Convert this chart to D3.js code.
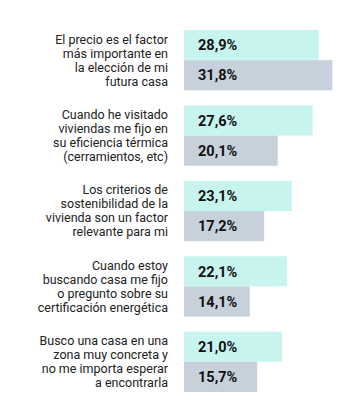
<!DOCTYPE html>
<html><head><meta charset="utf-8">
<script src="https://cdn.jsdelivr.net/npm/d3@7"></script>
<style>html,body{margin:0;padding:0;background:#fff;}svg{display:block;}</style>
</head><body>
<script>
const categories = [
  ["El precio es el factor","más importante en","la elección de mi","futura casa"],
  ["Cuando he visitado","viviendas me fijo en","su eficiencia térmica","(cerramientos, etc)"],
  ["Los criterios de","sostenibilidad de la","vivienda son un factor","relevante para mi"],
  ["Cuando estoy","buscando casa me fijo","o pregunto sobre su","certificación energética"],
  ["Busco una casa en una","zona muy concreta y","no me importa esperar","a encontrarla"]
];
const seriesA = [28.9, 27.6, 23.1, 22.1, 21.0];
const seriesB = [31.8, 20.1, 17.2, 14.1, 15.7];
const series = ["A","B"];
const colors = ["#c8f4f0","#c6d1dc"];

const W = 356, H = 418;
const svg = d3.select("body").append("svg").attr("width", W).attr("height", H);

const x = d3.scaleLinear().domain([0, 31.8]).range([184, 332.3]);
const y = d3.scaleBand().domain(d3.range(categories.length)).range([30, 392]).paddingInner(0.2).paddingOuter(0);
const ySub = d3.scaleBand().domain(series).range([0, y.bandwidth()]);

const fmt = v => d3.format(".1f")(v).replace(".", ",") + "%";

const g = svg.selectAll("g.grp").data(categories).join("g")
  .attr("transform", (d,i) => `translate(0,${y(i)})`);

g.each(function(d, i) {
  const gg = d3.select(this);
  const vals = [seriesA[i], seriesB[i]];
  series.forEach((s, j) => {
    gg.append("rect")
      .attr("x", x(0)).attr("y", ySub(s))
      .attr("width", x(vals[j]) - x(0)).attr("height", ySub.bandwidth())
      .attr("fill", colors[j]);
    gg.append("text")
      .attr("x", x(0) + 14).attr("y", ySub(s) + ySub.bandwidth()/2)
      .attr("dy", "0.36em")
      .attr("font-family", "Roboto, sans-serif").attr("font-weight", 700)
      .attr("font-size", 14.5).attr("fill", "#111")
      .text(fmt(vals[j]));
  });
  const lh = 14;
  const mid = y.bandwidth()/2;
  const t = gg.append("text")
    .attr("text-anchor", "end")
    .attr("font-family", "Roboto, sans-serif").attr("font-size", 12.5)
    .attr("fill", "#222");
  d.forEach((line, k) => {
    t.append("tspan").attr("x", 168)
      .attr("y", mid + (k - (d.length-1)/2) * lh)
      .attr("dy", "0.36em").text(line);
  });
});
</script>
</body></html>
